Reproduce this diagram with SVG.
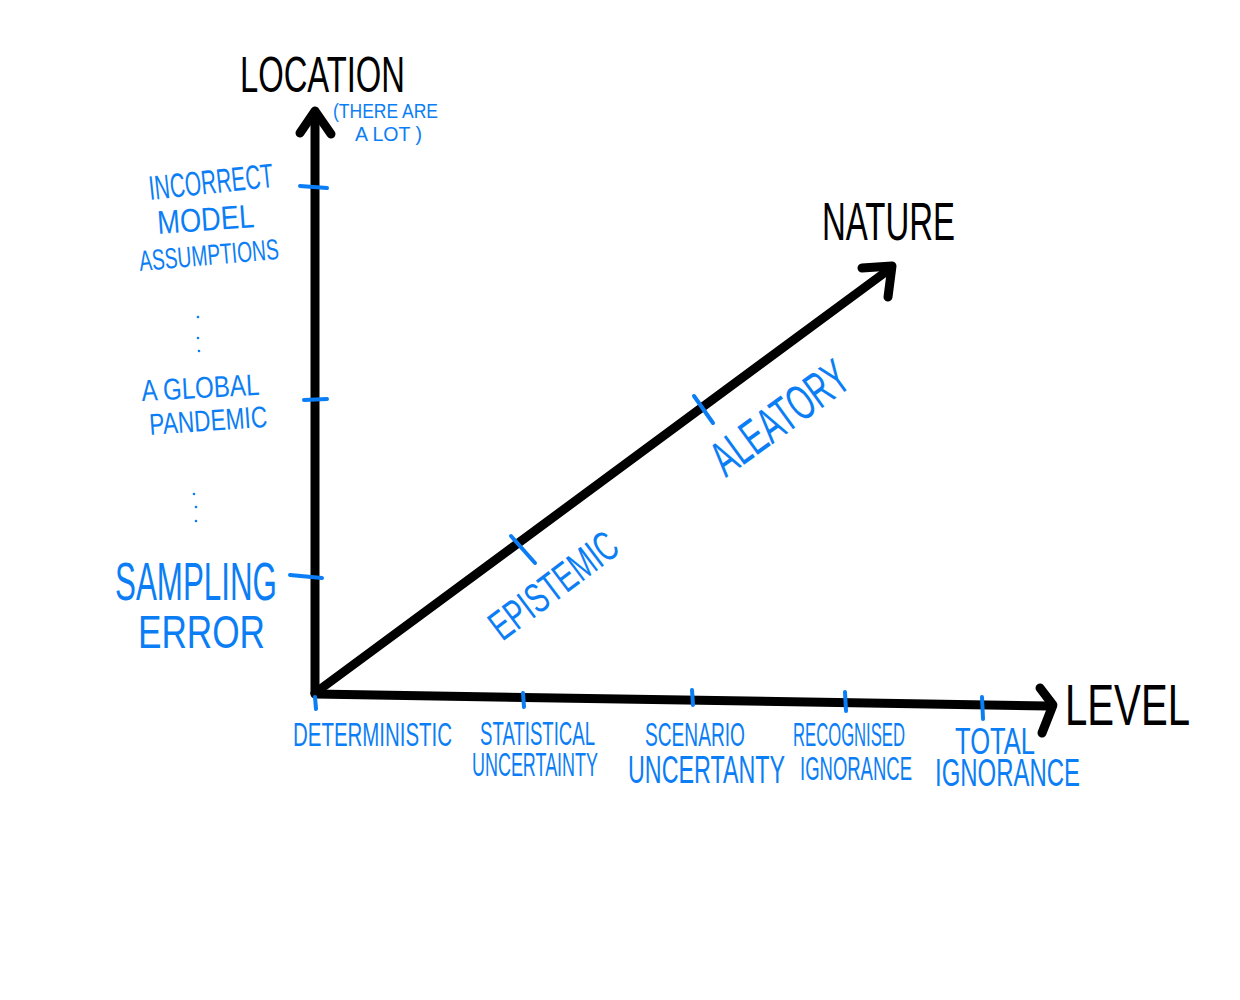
<svg xmlns="http://www.w3.org/2000/svg" width="1240" height="1000" viewBox="0 0 1240 1000">
  <style>
    .axis { fill: none; stroke: #000; stroke-width: 9; stroke-linecap: round; stroke-linejoin: round; }
    .tick { fill: none; stroke: #0b7ef5; stroke-width: 4; stroke-linecap: round; }
    .dot { fill: #0b7ef5; }
    .title { font-family: "Liberation Sans", Arial, sans-serif; fill: #000; }
    .lbl { font-family: "Liberation Sans", Arial, sans-serif; fill: #0b7ef5; }
  </style>
  <rect width="1240" height="1000" fill="#fff"/>

  <!-- axes -->
  <g id="connectors">
    <path class="axis" d="M315 693 L315 112"/>
    <path class="axis" d="M300 133 L315 111 L331 134"/>
    <path class="axis" d="M315 694 L1048 706"/>
    <path class="axis" d="M1040 688 L1053 705 L1042 733"/>
    <path class="axis" d="M315 693 L891 268"/>
    <path class="axis" d="M862 268 L892 266 L888 297"/>
  </g>

  <!-- tick marks -->
  <g id="ticks">
    <path class="tick" d="M300 186 L327 188"/>
    <path class="tick" d="M304 400 L327 399"/>
    <path class="tick" d="M290 575 L322 578"/>
    <path class="tick" d="M315 697 L316 709"/>
    <path class="tick" d="M523 693 L524 707"/>
    <path class="tick" d="M692 690 L693 705"/>
    <path class="tick" d="M845 692 L846 711"/>
    <path class="tick" d="M982 697 L983 719"/>
    <path class="tick" d="M511 536 L535 563"/>
    <path class="tick" d="M694 396 L713 423"/>
  </g>

  <!-- ellipsis dots between location examples -->
  <g id="dots">
    <circle class="dot" cx="198" cy="317" r="1.3"/>
    <circle class="dot" cx="198" cy="338" r="1.3"/>
    <circle class="dot" cx="199" cy="351" r="1.3"/>
    <circle class="dot" cx="194" cy="494" r="1.3"/>
    <circle class="dot" cx="196" cy="507" r="1.3"/>
    <circle class="dot" cx="196" cy="521" r="1.3"/>
  </g>

  <!-- axis titles -->
  <g id="location">
    <text class="title" x="240" y="92" font-size="50" textLength="165" lengthAdjust="spacingAndGlyphs">LOCATION</text>
    <text class="lbl" x="333" y="118" font-size="21" textLength="105" lengthAdjust="spacingAndGlyphs">(THERE ARE</text>
    <text class="lbl" x="355" y="141" font-size="21" textLength="67" lengthAdjust="spacingAndGlyphs">A LOT )</text>
  </g>
  <g id="level">
    <text class="title" x="1065" y="725" font-size="57" textLength="125" lengthAdjust="spacingAndGlyphs">LEVEL</text>
  </g>
  <g id="nature">
    <text class="title" x="822" y="240" font-size="54" textLength="133" lengthAdjust="spacingAndGlyphs">NATURE</text>
  </g>

  <!-- location examples -->
  <g id="incorrect-model">
    <text class="lbl" x="150" y="200" font-size="34" textLength="125" lengthAdjust="spacingAndGlyphs" transform="rotate(-6 150 200)">INCORRECT</text>
    <text class="lbl" x="158" y="234" font-size="33" textLength="97" lengthAdjust="spacingAndGlyphs" transform="rotate(-4 158 234)">MODEL</text>
    <text class="lbl" x="140" y="271" font-size="29" textLength="140" lengthAdjust="spacingAndGlyphs" transform="rotate(-5 140 271)">ASSUMPTIONS</text>
  </g>
  <g id="global-pandemic">
    <text class="lbl" x="142" y="401" font-size="30" textLength="118" lengthAdjust="spacingAndGlyphs" transform="rotate(-3 142 401)">A GLOBAL</text>
    <text class="lbl" x="150" y="435" font-size="30" textLength="118" lengthAdjust="spacingAndGlyphs" transform="rotate(-4 150 435)">PANDEMIC</text>
  </g>
  <g id="sampling-error">
    <text class="lbl" x="115" y="600" font-size="54" textLength="162" lengthAdjust="spacingAndGlyphs">SAMPLING</text>
    <text class="lbl" x="138" y="648" font-size="46" textLength="127" lengthAdjust="spacingAndGlyphs">ERROR</text>
  </g>

  <!-- level examples -->
  <g id="deterministic">
    <text class="lbl" x="293" y="746" font-size="34" textLength="159" lengthAdjust="spacingAndGlyphs">DETERMINISTIC</text>
  </g>
  <g id="statistical-uncertainty">
    <text class="lbl" x="480" y="745" font-size="34" textLength="115" lengthAdjust="spacingAndGlyphs">STATISTICAL</text>
    <text class="lbl" x="472" y="776" font-size="34" textLength="126" lengthAdjust="spacingAndGlyphs">UNCERTAINTY</text>
  </g>
  <g id="scenario-uncertainty">
    <text class="lbl" x="645" y="746" font-size="34" textLength="100" lengthAdjust="spacingAndGlyphs">SCENARIO</text>
    <text class="lbl" x="628" y="783" font-size="38" textLength="157" lengthAdjust="spacingAndGlyphs">UNCERTANTY</text>
  </g>
  <g id="recognised-ignorance">
    <text class="lbl" x="793" y="746" font-size="34" textLength="112" lengthAdjust="spacingAndGlyphs">RECOGNISED</text>
    <text class="lbl" x="800" y="780" font-size="34" textLength="112" lengthAdjust="spacingAndGlyphs">IGNORANCE</text>
  </g>
  <g id="total-ignorance">
    <text class="lbl" x="955" y="754" font-size="36" textLength="80" lengthAdjust="spacingAndGlyphs">TOTAL</text>
    <text class="lbl" x="935" y="786" font-size="38" textLength="145" lengthAdjust="spacingAndGlyphs">IGNORANCE</text>
  </g>

  <!-- nature examples, written along the diagonal -->
  <g id="epistemic" transform="translate(553 585) rotate(-37)">
    <text class="lbl" x="0" y="15" font-size="42" text-anchor="middle" textLength="150" lengthAdjust="spacingAndGlyphs">EPISTEMIC</text>
  </g>
  <g id="aleatory" transform="translate(779 417) rotate(-36)">
    <text class="lbl" x="0" y="18" font-size="50" text-anchor="middle" textLength="158" lengthAdjust="spacingAndGlyphs">ALEATORY</text>
  </g>
</svg>
